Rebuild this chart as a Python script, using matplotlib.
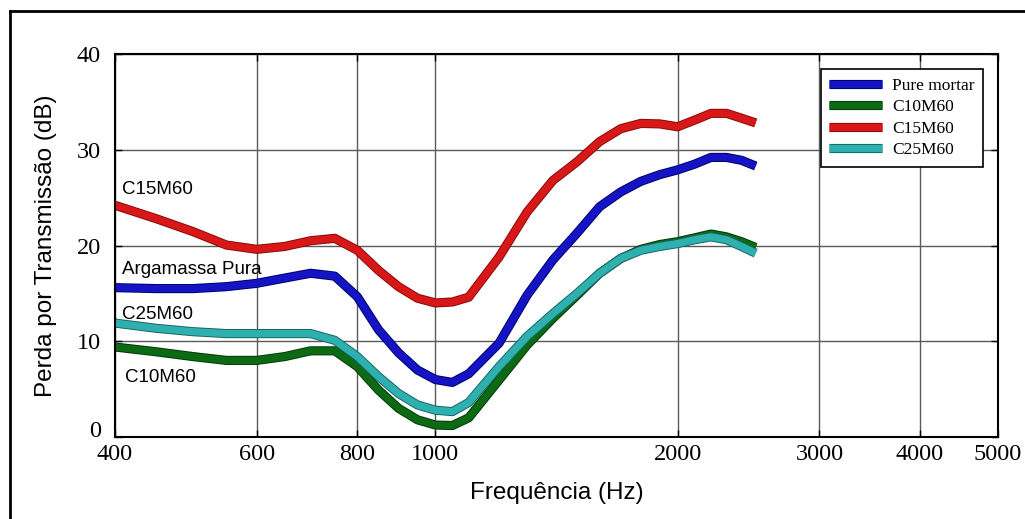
import numpy as np
import matplotlib
matplotlib.use("Agg")
import matplotlib.pyplot as plt
import matplotlib.patheffects as pe
from matplotlib.lines import Line2D

# frequencies (Hz)
freq = [400, 450, 500, 550, 600, 650, 700, 750, 800, 850, 900, 950, 1000,
        1050, 1100, 1200, 1300, 1400, 1500, 1600, 1700, 1800, 1900, 2000,
        2100, 2200, 2300, 2400, 2500]

pure_mortar = [15.6, 15.5, 15.5, 15.7, 16.05, 16.6, 17.1, 16.8, 14.65, 11.2, 8.8, 7.0, 6.0,
               5.7, 6.6, 9.8, 14.8, 18.5, 21.3, 24.05, 25.6, 26.7, 27.4, 27.9,
               28.5, 29.2, 29.2, 28.9, 28.3]
c10m60 = [9.4, 8.9, 8.4, 8.0, 8.0, 8.4, 9.0, 9.0, 7.35, 4.9, 3.0, 1.8, 1.25,
          1.2, 2.0, 5.95, 9.6, 12.4, 14.8, 17.1, 18.65, 19.6, 20.1, 20.4,
          20.8, 21.2, 20.9, 20.4, 19.8]
c15m60 = [24.2, 22.8, 21.45, 20.05, 19.6, 19.9, 20.5, 20.75, 19.5, 17.4, 15.7, 14.5, 14.0,
          14.1, 14.6, 18.8, 23.5, 26.8, 28.75, 30.85, 32.2, 32.75, 32.7, 32.4,
          33.1, 33.8, 33.8, 33.3, 32.8]
c25m60 = [11.9, 11.35, 11.0, 10.8, 10.8, 10.8, 10.8, 10.1, 8.4, 6.3, 4.55, 3.35, 2.8,
          2.65, 3.6, 7.35, 10.5, 12.9, 15.0, 17.1, 18.65, 19.5, 19.9, 20.2,
          20.6, 20.9, 20.6, 19.9, 19.2]

xticks = [400, 600, 800, 1000, 2000, 3000, 4000, 5000]
yticks = [0, 10, 20, 30, 40]

series = [  # label, values, colour, edge colour
    ("Pure mortar", pure_mortar, "#1414c4", "#00006e"),
    ("C10M60", c10m60, "#0c6a14", "#033a06"),
    ("C15M60", c15m60, "#d81818", "#8a0a0a"),
    ("C25M60", c25m60, "#2eb0ae", "#146868"),
]
draw_order = ["C15M60", "Pure mortar", "C10M60", "C25M60"]

annotations = [("C15M60", 408, 25.8), ("Argamassa Pura", 408, 17.5),
               ("C25M60", 408, 12.8), ("C10M60", 412, 6.2)]

fig = plt.figure(figsize=(10.25, 5.19), dpi=100)
ax = fig.add_axes([115/1025, 82/519, 883/1025, 383/519])

handles = {}
for name in draw_order:
    label, vals, col, edge = [s for s in series if s[0] == name][0]
    ln, = ax.plot(freq, vals, color=col, lw=5.2, solid_capstyle="butt",
                  solid_joinstyle="round", label=label,
                  path_effects=[pe.Stroke(linewidth=6.6, foreground=edge,
                                          joinstyle="round"), pe.Normal()])
    handles[label] = ln

ax.set_xscale("log")
ax.set_xlim(400, 5000)
ax.set_ylim(0, 40)
ax.set_xticks(xticks)
ax.set_xticklabels([str(t) for t in xticks])
ax.xaxis.set_minor_locator(matplotlib.ticker.NullLocator())
ax.set_yticks(yticks)
ax.set_yticklabels([str(t) for t in yticks])
ax.tick_params(direction="in", top=True, right=True, length=5, width=1)
ax.tick_params(axis="y", pad=10)
ax.tick_params(axis="x", pad=5)
for lab in ax.get_xticklabels() + ax.get_yticklabels():
    lab.set_fontfamily("Liberation Serif")
    lab.set_fontsize(17.5)
# the "0" sits just above the "400" in the reference
ax.get_yticklabels()[0].set_verticalalignment("baseline")
ax.grid(True, color="#5a5a5a", lw=1.0)
ax.set_axisbelow(True)
for sp in ax.spines.values():
    sp.set_linewidth(1.5)

ax.set_xlabel("Frequência (Hz)", fontfamily="Liberation Sans", fontsize=17.5, labelpad=12)
ax.set_ylabel("Perda por Transmissão (dB)", fontfamily="Liberation Sans", fontsize=17.5,
              labelpad=14)

for txt, x, y in annotations:
    ax.text(x, y, txt, fontfamily="Liberation Sans", fontsize=13.5, va="center", ha="left")

leg = ax.legend([handles[s[0]] for s in series], [s[0] for s in series],
                loc="upper right", bbox_to_anchor=(0.993, 0.983), fancybox=False,
                framealpha=1, edgecolor="black", handlelength=3.0, labelspacing=0.3,
                handletextpad=0.6, prop={"family": "Liberation Serif", "size": 12.5},
                borderpad=0.5)
leg.get_frame().set_linewidth(1.2)

# outer frame around the figure
fig.add_artist(Line2D([10/1025, 1], [1 - 11/519, 1 - 11/519], color="black", lw=2,
                      transform=fig.transFigure))
fig.add_artist(Line2D([10/1025, 10/1025], [0, 1 - 11/519], color="black", lw=2,
                      transform=fig.transFigure))

fig.savefig("out.png", dpi=100)
